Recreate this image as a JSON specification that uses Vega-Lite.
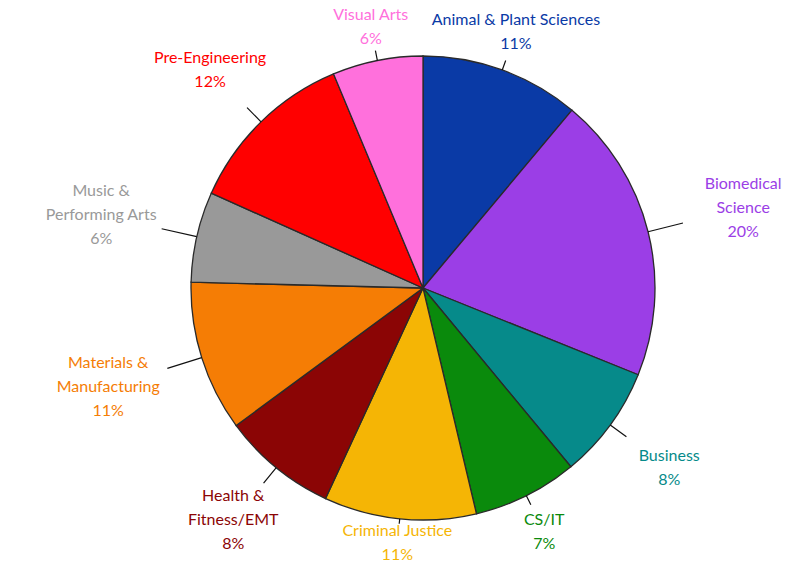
{
  "$schema": "https://vega.github.io/schema/vega-lite/v6.json",
  "autosize": {"type": "none"},
  "width": 756,
  "height": 570,
  "padding": {"left": 45, "top": 3, "right": 0, "bottom": 0},
  "background": "white",
  "config": {"view": {"stroke": null}},
  "data": {
    "values": [
      {"category": "Animal & Plant Sciences", "value": 11.1, "label": "Animal & Plant Sciences\n11%"},
      {"category": "Biomedical Science", "value": 20.0, "label": "Biomedical\nScience\n20%"},
      {"category": "Business", "value": 7.9, "label": "Business\n8%"},
      {"category": "CS/IT", "value": 7.3, "label": "CS/IT\n7%"},
      {"category": "Criminal Justice", "value": 10.6, "label": "Criminal Justice\n11%"},
      {"category": "Health & Fitness/EMT", "value": 8.0, "label": "Health &\nFitness/EMT\n8%"},
      {"category": "Materials & Manufacturing", "value": 10.5, "label": "Materials &\nManufacturing\n11%"},
      {"category": "Music & Performing Arts", "value": 6.3, "label": "Music &\nPerforming Arts\n6%"},
      {"category": "Pre-Engineering", "value": 12.0, "label": "Pre-Engineering\n12%"},
      {"category": "Visual Arts", "value": 6.3, "label": "Visual Arts\n6%"}
    ]
  },
  "encoding": {
    "theta": {"field": "value", "type": "quantitative", "stack": true},
    "order": {"field": "category", "type": "ordinal", "sort": "ascending"},
    "color": {
      "field": "category",
      "type": "nominal",
      "legend": null,
      "scale": {
        "domain": ["Animal & Plant Sciences", "Biomedical Science", "Business", "CS/IT", "Criminal Justice", "Health & Fitness/EMT", "Materials & Manufacturing", "Music & Performing Arts", "Pre-Engineering", "Visual Arts"],
        "range": ["#0a3aa6", "#9b3ee6", "#068a8a", "#0a8a0c", "#f5b505", "#8b0505", "#f57d05", "#999999", "#ff0000", "#ff70dc"]
      }
    }
  },
  "layer": [
    {
      "mark": {"type": "arc", "outerRadius": 232, "stroke": "#2a2a2a", "strokeWidth": 1.3}
    },
    {
      "mark": {"type": "arc", "innerRadius": 232, "outerRadius": 268, "padAngle": 3.1, "filled": false, "stroke": "#111111", "strokeWidth": 1.2},
      "encoding": {
        "color": {"value": "#111111"},
        "detail": {"field": "category", "type": "nominal"},
        "strokeOpacity": {"condition": {"test": "indexof(['Biomedical Science','Materials & Manufacturing','Music & Performing Arts'], datum.category) >= 0", "value": 1}, "value": 0}
      }
    },
    {
      "mark": {"type": "arc", "innerRadius": 232, "outerRadius": 252, "padAngle": 3.1, "filled": false, "stroke": "#111111", "strokeWidth": 1.2},
      "encoding": {
        "color": {"value": "#111111"},
        "detail": {"field": "category", "type": "nominal"},
        "strokeOpacity": {"condition": {"test": "indexof(['Business','Pre-Engineering','Health & Fitness/EMT'], datum.category) >= 0", "value": 1}, "value": 0}
      }
    },
    {
      "mark": {"type": "arc", "innerRadius": 232, "outerRadius": 242, "padAngle": 3.1, "filled": false, "stroke": "#111111", "strokeWidth": 1.2},
      "encoding": {
        "color": {"value": "#111111"},
        "detail": {"field": "category", "type": "nominal"},
        "strokeOpacity": {"condition": {"test": "indexof(['Animal & Plant Sciences','CS/IT','Visual Arts'], datum.category) >= 0", "value": 1}, "value": 0}
      }
    },
    {
      "mark": {"type": "arc", "innerRadius": 232, "outerRadius": 237, "padAngle": 3.1, "filled": false, "stroke": "#111111", "strokeWidth": 1.2},
      "encoding": {
        "color": {"value": "#111111"},
        "detail": {"field": "category", "type": "nominal"},
        "strokeOpacity": {"condition": {"test": "datum.category === 'Criminal Justice'", "value": 1}, "value": 0}
      }
    },
    {
      "mark": {"type": "text", "radius": 330, "dy": -24, "font": "Lato", "fontSize": 16, "lineBreak": "\n", "lineHeight": 24, "align": "center", "baseline": "middle"},
      "encoding": {
        "text": {"condition": {"test": "indexof(['Biomedical Science','Materials & Manufacturing','Music & Performing Arts'], datum.category) >= 0", "field": "label"}, "value": ""}
      }
    },
    {
      "mark": {"type": "text", "radius": 300, "dy": -24, "font": "Lato", "fontSize": 16, "lineBreak": "\n", "lineHeight": 24, "align": "center", "baseline": "middle"},
      "encoding": {
        "text": {"condition": {"test": "datum.category === 'Health & Fitness/EMT'", "field": "label"}, "value": ""}
      }
    },
    {
      "mark": {"type": "text", "radius": 305, "dy": -12, "font": "Lato", "fontSize": 16, "lineBreak": "\n", "lineHeight": 24, "align": "center", "baseline": "middle"},
      "encoding": {
        "text": {"condition": {"test": "indexof(['Business','Pre-Engineering'], datum.category) >= 0", "field": "label"}, "value": ""}
      }
    },
    {
      "mark": {"type": "text", "radius": 272, "dy": -12, "font": "Lato", "fontSize": 16, "lineBreak": "\n", "lineHeight": 24, "align": "center", "baseline": "middle"},
      "encoding": {
        "text": {"condition": {"test": "indexof(['Animal & Plant Sciences','CS/IT'], datum.category) >= 0", "field": "label"}, "value": ""}
      }
    },
    {
      "mark": {"type": "text", "radius": 266, "dy": -12, "font": "Lato", "fontSize": 16, "lineBreak": "\n", "lineHeight": 24, "align": "center", "baseline": "middle"},
      "encoding": {
        "text": {"condition": {"test": "datum.category === 'Visual Arts'", "field": "label"}, "value": ""}
      }
    },
    {
      "mark": {"type": "text", "radius": 256, "dy": -12, "font": "Lato", "fontSize": 16, "lineBreak": "\n", "lineHeight": 24, "align": "center", "baseline": "middle"},
      "encoding": {
        "text": {"condition": {"test": "datum.category === 'Criminal Justice'", "field": "label"}, "value": ""}
      }
    }
  ]
}
